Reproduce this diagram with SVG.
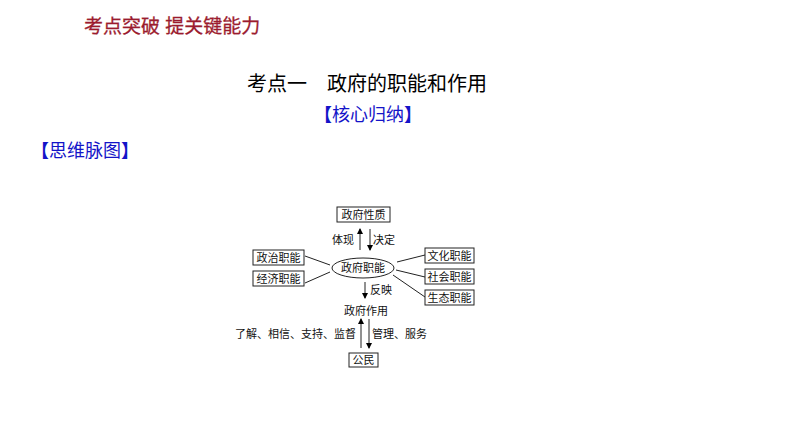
<svg xmlns="http://www.w3.org/2000/svg" width="794" height="447" viewBox="0 0 794 447">
<defs>
<marker id="ah" viewBox="0 0 6 6" refX="5" refY="3" markerWidth="6" markerHeight="6" markerUnits="userSpaceOnUse" orient="auto">
<path d="M0,0 L6,3 L0,6 Z" fill="#000"/>
</marker>
<style>
.hd{font-family:"Liberation Sans","Noto Sans CJK SC",sans-serif}
.bl{font-weight:bold}
.t{font-family:"Noto Sans CJK SC",sans-serif;font-size:11px;fill:#111}
.bx{fill:#fff;stroke:#222;stroke-width:1}
.ln{stroke:#222;stroke-width:1;fill:none}
.ar{stroke:#222;stroke-width:1;fill:none;marker-end:url(#ah)}
</style>
</defs>
<rect width="794" height="447" fill="#fff"/>
<text class="hd" x="84" y="33" font-size="19" fill="#9B1B2E" stroke="#9B1B2E" stroke-width="0.3">考点突破 提关键能力</text>
<text class="hd" x="247" y="91" font-size="20" fill="#000">考点一　政府的职能和作用</text>
<text class="hd" x="314" y="121" font-size="18" fill="#1414C8"><tspan class="bl">【</tspan>核心归纳<tspan class="bl">】</tspan></text>
<text class="hd" x="31" y="157" font-size="18" fill="#1414C8"><tspan class="bl">【</tspan>思维脉图<tspan class="bl">】</tspan></text>

<g id="connectors">
<line class="ar" x1="360" y1="250" x2="360" y2="229"/>
<line class="ar" x1="370" y1="229" x2="370" y2="250"/>
<line class="ln" x1="305" y1="256" x2="330" y2="265"/>
<line class="ln" x1="305" y1="283" x2="330" y2="272"/>
<line class="ln" x1="397" y1="262" x2="425" y2="255"/>
<line class="ln" x1="396" y1="270" x2="425" y2="277"/>
<line class="ln" x1="393" y1="275" x2="425" y2="297"/>
<line class="ar" x1="365" y1="282" x2="365" y2="298"/>
<line class="ar" x1="361" y1="348" x2="361" y2="319"/>
<line class="ar" x1="369" y1="319" x2="369" y2="348"/>
<text class="t" x="332" y="244">体现</text>
<text class="t" x="373" y="244">决定</text>
<text class="t" x="370" y="294">反映</text>
<text class="t" x="235" y="338">了解、相信、支持、监督</text>
<text class="t" x="372" y="338">管理、服务</text>
</g>

<g id="n-xingzhi">
<rect class="bx" x="337" y="207" width="53" height="15"/>
<text class="t" x="363.5" y="219" text-anchor="middle">政府性质</text>
</g>
<g id="n-zhineng">
<ellipse class="bx" cx="363" cy="268" rx="31" ry="10"/>
<text class="t" x="363" y="272" text-anchor="middle">政府职能</text>
</g>
<g id="n-zhengzhi">
<rect class="bx" x="253" y="250" width="51" height="15"/>
<text class="t" x="278.5" y="262" text-anchor="middle">政治职能</text>
</g>
<g id="n-jingji">
<rect class="bx" x="253" y="271" width="51" height="15"/>
<text class="t" x="278.5" y="283" text-anchor="middle">经济职能</text>
</g>
<g id="n-wenhua">
<rect class="bx" x="425" y="248" width="49" height="15"/>
<text class="t" x="449.5" y="260" text-anchor="middle">文化职能</text>
</g>
<g id="n-shehui">
<rect class="bx" x="425" y="269" width="49" height="15"/>
<text class="t" x="449.5" y="281" text-anchor="middle">社会职能</text>
</g>
<g id="n-shengtai">
<rect class="bx" x="425" y="290" width="49" height="15"/>
<text class="t" x="449.5" y="302" text-anchor="middle">生态职能</text>
</g>
<g id="n-zuoyong">
<text class="t" x="366" y="315" text-anchor="middle">政府作用</text>
</g>
<g id="n-gongmin">
<rect class="bx" x="349" y="353" width="29" height="14"/>
<text class="t" x="363.5" y="364" text-anchor="middle">公民</text>
</g>
</svg>
